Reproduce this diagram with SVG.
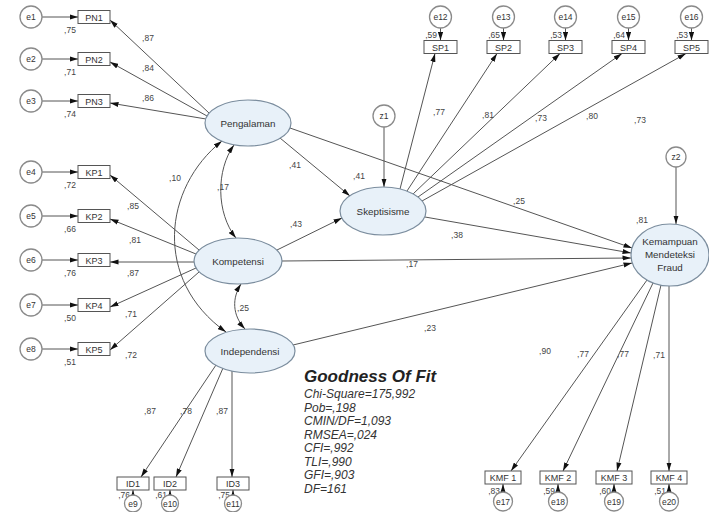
<svg xmlns="http://www.w3.org/2000/svg" width="709" height="512" viewBox="0 0 709 512">
<defs>
<marker id="ah" viewBox="0 0 10 6" refX="10" refY="3" markerWidth="8.5" markerHeight="5.5" orient="auto-start-reverse" markerUnits="userSpaceOnUse"><path d="M0,0L10,3L0,6z" fill="#111"/></marker>
<style>
text{font-family:"Liberation Sans",Arial,sans-serif;fill:#333}
.ell{fill:#e8f1f9;stroke:#7b8d9e;stroke-width:1.2}
.err{fill:#fff;stroke:#8a8a8a;stroke-width:1.3}
.box{fill:#fff;stroke:#555;stroke-width:1}
.ln{stroke:#555;stroke-width:1;fill:none;marker-end:url(#ah)}
.dl{stroke:#555;stroke-width:1;fill:none;marker-end:url(#ah);marker-start:url(#ah)}
.el{font-size:8.5px;text-anchor:middle}
.bl{font-size:9px;text-anchor:middle}
.nd{font-size:9.8px;text-anchor:middle}
.lb{font-size:8.5px;text-anchor:middle;fill:#444}
.le{font-size:8.5px;text-anchor:end;fill:#444}
.gt{font-size:17px;font-weight:bold;font-style:italic;fill:#222}
.gf{font-size:12px;font-style:italic;fill:#333}
</style>
</defs>
<rect width="709" height="512" fill="#fff"/>

<g id="connectors">
<line class="ln" x1="42" y1="17" x2="78" y2="17"/>
<line class="ln" x1="42" y1="59" x2="78" y2="59"/>
<line class="ln" x1="42" y1="101" x2="78" y2="101"/>
<line class="ln" x1="42" y1="172" x2="78" y2="172"/>
<line class="ln" x1="42" y1="216" x2="78" y2="216"/>
<line class="ln" x1="42" y1="260" x2="78" y2="260"/>
<line class="ln" x1="42" y1="305" x2="78" y2="305"/>
<line class="ln" x1="42" y1="349" x2="78" y2="349"/>
<line class="ln" x1="209" y1="113" x2="110" y2="20"/>
<line class="ln" x1="207" y1="116" x2="110" y2="62"/>
<line class="ln" x1="206" y1="119" x2="110" y2="103"/>
<line class="ln" x1="199" y1="250" x2="110" y2="175"/>
<line class="ln" x1="196" y1="254" x2="110" y2="219"/>
<line class="ln" x1="194" y1="262" x2="110" y2="262"/>
<line class="ln" x1="196" y1="268" x2="110" y2="307"/>
<line class="ln" x1="199" y1="272" x2="110" y2="350"/>
<line class="ln" x1="216" y1="365" x2="141" y2="477"/>
<line class="ln" x1="223" y1="368" x2="176" y2="477"/>
<line class="ln" x1="232" y1="371" x2="232" y2="477"/>
<line class="ln" x1="133" y1="495" x2="133" y2="490"/>
<line class="ln" x1="170" y1="495" x2="170" y2="490"/>
<line class="ln" x1="233" y1="495" x2="233" y2="490"/>
<line class="ln" x1="400" y1="189" x2="435" y2="53.5"/>
<line class="ln" x1="407" y1="191" x2="497" y2="53.5"/>
<line class="ln" x1="413" y1="194" x2="560" y2="53.5"/>
<line class="ln" x1="418" y1="197" x2="622" y2="53.5"/>
<line class="ln" x1="422" y1="201" x2="686" y2="53.5"/>
<line class="ln" x1="440.5" y1="28" x2="440.5" y2="40.5"/>
<line class="ln" x1="503.5" y1="28" x2="503.5" y2="40.5"/>
<line class="ln" x1="565.5" y1="28" x2="565.5" y2="40.5"/>
<line class="ln" x1="628.5" y1="28" x2="628.5" y2="40.5"/>
<line class="ln" x1="691.5" y1="28" x2="691.5" y2="40.5"/>
<line class="ln" x1="647" y1="280" x2="511" y2="471"/>
<line class="ln" x1="653" y1="283" x2="563" y2="471"/>
<line class="ln" x1="661" y1="285" x2="617" y2="471"/>
<line class="ln" x1="669" y1="286" x2="669" y2="471"/>
<line class="ln" x1="503" y1="492" x2="503" y2="484"/>
<line class="ln" x1="558" y1="492" x2="558" y2="484"/>
<line class="ln" x1="614" y1="492" x2="614" y2="484"/>
<line class="ln" x1="669" y1="492" x2="669" y2="484"/>
<line class="ln" x1="384" y1="127" x2="384" y2="187"/>
<line class="ln" x1="676" y1="167" x2="676" y2="224"/>
<line class="ln" x1="280" y1="138" x2="350" y2="196"/>
<line class="ln" x1="277" y1="250" x2="342" y2="218"/>
<line class="ln" x1="290" y1="128" x2="632" y2="248"/>
<line class="ln" x1="425" y1="217" x2="631" y2="253"/>
<line class="ln" x1="282" y1="261" x2="631" y2="258"/>
<line class="ln" x1="293" y1="345" x2="632" y2="263"/>
<path class="dl" d="M234,145 C216,170 216,213 236,238"/>
<path class="dl" d="M241,284 C232,298 232,315 245,329"/>
<path class="dl" d="M222,141 C163,188 153,280 226,332"/>
</g>

<g id="labels">
<text class="lb" x="70" y="33">,75</text>
<text class="lb" x="70" y="75">,71</text>
<text class="lb" x="70" y="117">,74</text>
<text class="lb" x="148" y="41">,87</text>
<text class="lb" x="148" y="71">,84</text>
<text class="lb" x="148" y="101">,86</text>
<text class="lb" x="70" y="188">,72</text>
<text class="lb" x="70" y="232">,66</text>
<text class="lb" x="70" y="276">,76</text>
<text class="lb" x="70" y="321">,50</text>
<text class="lb" x="70" y="365">,51</text>
<text class="lb" x="133" y="209">,85</text>
<text class="lb" x="135" y="243">,81</text>
<text class="lb" x="133" y="276">,87</text>
<text class="lb" x="131" y="317">,71</text>
<text class="lb" x="131" y="358">,72</text>
<text class="lb" x="175" y="181">,10</text>
<text class="lb" x="223" y="190">,17</text>
<text class="lb" x="243" y="311">,25</text>
<text class="lb" x="295" y="168">,41</text>
<text class="lb" x="359" y="179">,41</text>
<text class="lb" x="296" y="227">,43</text>
<text class="lb" x="519" y="204">,25</text>
<text class="lb" x="457" y="238">,38</text>
<text class="lb" x="412" y="267">,17</text>
<text class="lb" x="430" y="331">,23</text>
<text class="lb" x="642" y="223">,81</text>
<text class="le" x="437" y="38">,59</text>
<text class="le" x="500" y="38">,65</text>
<text class="le" x="562" y="38">,53</text>
<text class="le" x="625" y="38">,64</text>
<text class="le" x="688" y="38">,53</text>
<text class="lb" x="439" y="115">,77</text>
<text class="lb" x="488" y="118">,81</text>
<text class="lb" x="541" y="121">,73</text>
<text class="lb" x="592" y="119">,80</text>
<text class="lb" x="640" y="123">,73</text>
<text class="lb" x="150" y="414">,87</text>
<text class="lb" x="186" y="414">,78</text>
<text class="lb" x="222" y="414">,87</text>
<text class="le" x="130" y="498">,76</text>
<text class="le" x="167" y="498">,61</text>
<text class="le" x="230" y="498">,75</text>
<text class="lb" x="545" y="354">,90</text>
<text class="lb" x="583" y="357">,77</text>
<text class="lb" x="623" y="357">,77</text>
<text class="lb" x="659" y="358">,71</text>
<text class="le" x="500" y="494">,83</text>
<text class="le" x="555" y="494">,59</text>
<text class="le" x="611" y="494">,60</text>
<text class="le" x="666" y="494">,51</text>
</g>

<g id="e1"><circle class="err" cx="31" cy="17" r="11"/><text class="el" x="31" y="20">e1</text></g>
<g id="e2"><circle class="err" cx="31" cy="59" r="11"/><text class="el" x="31" y="62">e2</text></g>
<g id="e3"><circle class="err" cx="31" cy="101" r="11"/><text class="el" x="31" y="104">e3</text></g>
<g id="e4"><circle class="err" cx="31" cy="172" r="11"/><text class="el" x="31" y="175">e4</text></g>
<g id="e5"><circle class="err" cx="31" cy="216" r="11"/><text class="el" x="31" y="219">e5</text></g>
<g id="e6"><circle class="err" cx="31" cy="260" r="11"/><text class="el" x="31" y="263">e6</text></g>
<g id="e7"><circle class="err" cx="31" cy="305" r="11"/><text class="el" x="31" y="308">e7</text></g>
<g id="e8"><circle class="err" cx="31" cy="349" r="11"/><text class="el" x="31" y="352">e8</text></g>

<g id="PN1"><rect class="box" x="78" y="10.5" width="32" height="13"/><text class="bl" x="94" y="20.5">PN1</text></g>
<g id="PN2"><rect class="box" x="78" y="52.5" width="32" height="13"/><text class="bl" x="94" y="62.5">PN2</text></g>
<g id="PN3"><rect class="box" x="78" y="94.5" width="32" height="13"/><text class="bl" x="94" y="104.5">PN3</text></g>
<g id="KP1"><rect class="box" x="78" y="165.5" width="32" height="13"/><text class="bl" x="94" y="175.5">KP1</text></g>
<g id="KP2"><rect class="box" x="78" y="209.5" width="32" height="13"/><text class="bl" x="94" y="219.5">KP2</text></g>
<g id="KP3"><rect class="box" x="78" y="253.5" width="32" height="13"/><text class="bl" x="94" y="263.5">KP3</text></g>
<g id="KP4"><rect class="box" x="78" y="298.5" width="32" height="13"/><text class="bl" x="94" y="308.5">KP4</text></g>
<g id="KP5"><rect class="box" x="78" y="342.5" width="32" height="13"/><text class="bl" x="94" y="352.5">KP5</text></g>

<g id="ID1"><rect class="box" x="117" y="477" width="32" height="13"/><text class="bl" x="133" y="487">ID1</text></g>
<g id="ID2"><rect class="box" x="154" y="477" width="32" height="13"/><text class="bl" x="170" y="487">ID2</text></g>
<g id="ID3"><rect class="box" x="217" y="477" width="32" height="13"/><text class="bl" x="233" y="487">ID3</text></g>
<g id="e9"><circle class="err" cx="133" cy="503.5" r="8.5"/><text class="el" x="133" y="506.5">e9</text></g>
<g id="e10"><circle class="err" cx="170" cy="503.5" r="8.5"/><text class="el" x="170" y="506.5">e10</text></g>
<g id="e11"><circle class="err" cx="233" cy="503.5" r="8.5"/><text class="el" x="233" y="506.5">e11</text></g>

<g id="e12"><circle class="err" cx="440.5" cy="17" r="11"/><text class="el" x="440.5" y="20">e12</text></g>
<g id="e13"><circle class="err" cx="503.5" cy="17" r="11"/><text class="el" x="503.5" y="20">e13</text></g>
<g id="e14"><circle class="err" cx="565.5" cy="17" r="11"/><text class="el" x="565.5" y="20">e14</text></g>
<g id="e15"><circle class="err" cx="628.5" cy="17" r="11"/><text class="el" x="628.5" y="20">e15</text></g>
<g id="e16"><circle class="err" cx="691.5" cy="17" r="11"/><text class="el" x="691.5" y="20">e16</text></g>
<g id="SP1"><rect class="box" x="424" y="40.5" width="33" height="13"/><text class="bl" x="440.5" y="50.5">SP1</text></g>
<g id="SP2"><rect class="box" x="487" y="40.5" width="33" height="13"/><text class="bl" x="503.5" y="50.5">SP2</text></g>
<g id="SP3"><rect class="box" x="549" y="40.5" width="33" height="13"/><text class="bl" x="565.5" y="50.5">SP3</text></g>
<g id="SP4"><rect class="box" x="612" y="40.5" width="33" height="13"/><text class="bl" x="628.5" y="50.5">SP4</text></g>
<g id="SP5"><rect class="box" x="675" y="40.5" width="33" height="13"/><text class="bl" x="691.5" y="50.5">SP5</text></g>

<g id="KMF1"><rect class="box" x="485" y="471" width="36" height="13"/><text class="bl" x="503" y="481">KMF 1</text></g>
<g id="KMF2"><rect class="box" x="540" y="471" width="36" height="13"/><text class="bl" x="558" y="481">KMF 2</text></g>
<g id="KMF3"><rect class="box" x="596" y="471" width="36" height="13"/><text class="bl" x="614" y="481">KMF 3</text></g>
<g id="KMF4"><rect class="box" x="651" y="471" width="36" height="13"/><text class="bl" x="669" y="481">KMF 4</text></g>
<g id="e17"><circle class="err" cx="503" cy="501.5" r="9.5"/><text class="el" x="503" y="504.5">e17</text></g>
<g id="e18"><circle class="err" cx="558" cy="501.5" r="9.5"/><text class="el" x="558" y="504.5">e18</text></g>
<g id="e19"><circle class="err" cx="614" cy="501.5" r="9.5"/><text class="el" x="614" y="504.5">e19</text></g>
<g id="e20"><circle class="err" cx="669" cy="501.5" r="9.5"/><text class="el" x="669" y="504.5">e20</text></g>

<g id="z1"><circle class="err" cx="384" cy="116" r="11"/><text class="el" x="384" y="119">z1</text></g>
<g id="z2"><circle class="err" cx="676" cy="157" r="10"/><text class="el" x="676" y="160">z2</text></g>

<g id="Pengalaman"><ellipse class="ell" cx="248" cy="123" rx="43" ry="23"/><text class="nd" x="248" y="126.5">Pengalaman</text></g>
<g id="Kompetensi"><ellipse class="ell" cx="238" cy="261" rx="44" ry="23"/><text class="nd" x="238" y="264.5">Kompetensi</text></g>
<g id="Independensi"><ellipse class="ell" cx="250" cy="351" rx="45" ry="22"/><text class="nd" x="250" y="354.5">Independensi</text></g>
<g id="Skeptisisme"><ellipse class="ell" cx="383" cy="211" rx="43" ry="24"/><text class="nd" x="383" y="214.5">Skeptisisme</text></g>
<g id="Kemampuan"><ellipse class="ell" cx="670" cy="255" rx="39" ry="31"/><text class="nd" x="670" y="245">Kemampuan</text><text class="nd" x="670" y="258">Mendeteksi</text><text class="nd" x="670" y="271">Fraud</text></g>

<g id="fit">
<text class="gt" x="304" y="382">Goodness Of Fit</text>
<text class="gf" x="304" y="398">Chi-Square=175,992</text>
<text class="gf" x="304" y="411.5">Pob=,198</text>
<text class="gf" x="304" y="425">CMIN/DF=1,093</text>
<text class="gf" x="304" y="438.5">RMSEA=,024</text>
<text class="gf" x="304" y="452">CFI=,992</text>
<text class="gf" x="304" y="465.5">TLI=,990</text>
<text class="gf" x="304" y="479">GFI=,903</text>
<text class="gf" x="304" y="492.5">DF=161</text>
</g>
</svg>
